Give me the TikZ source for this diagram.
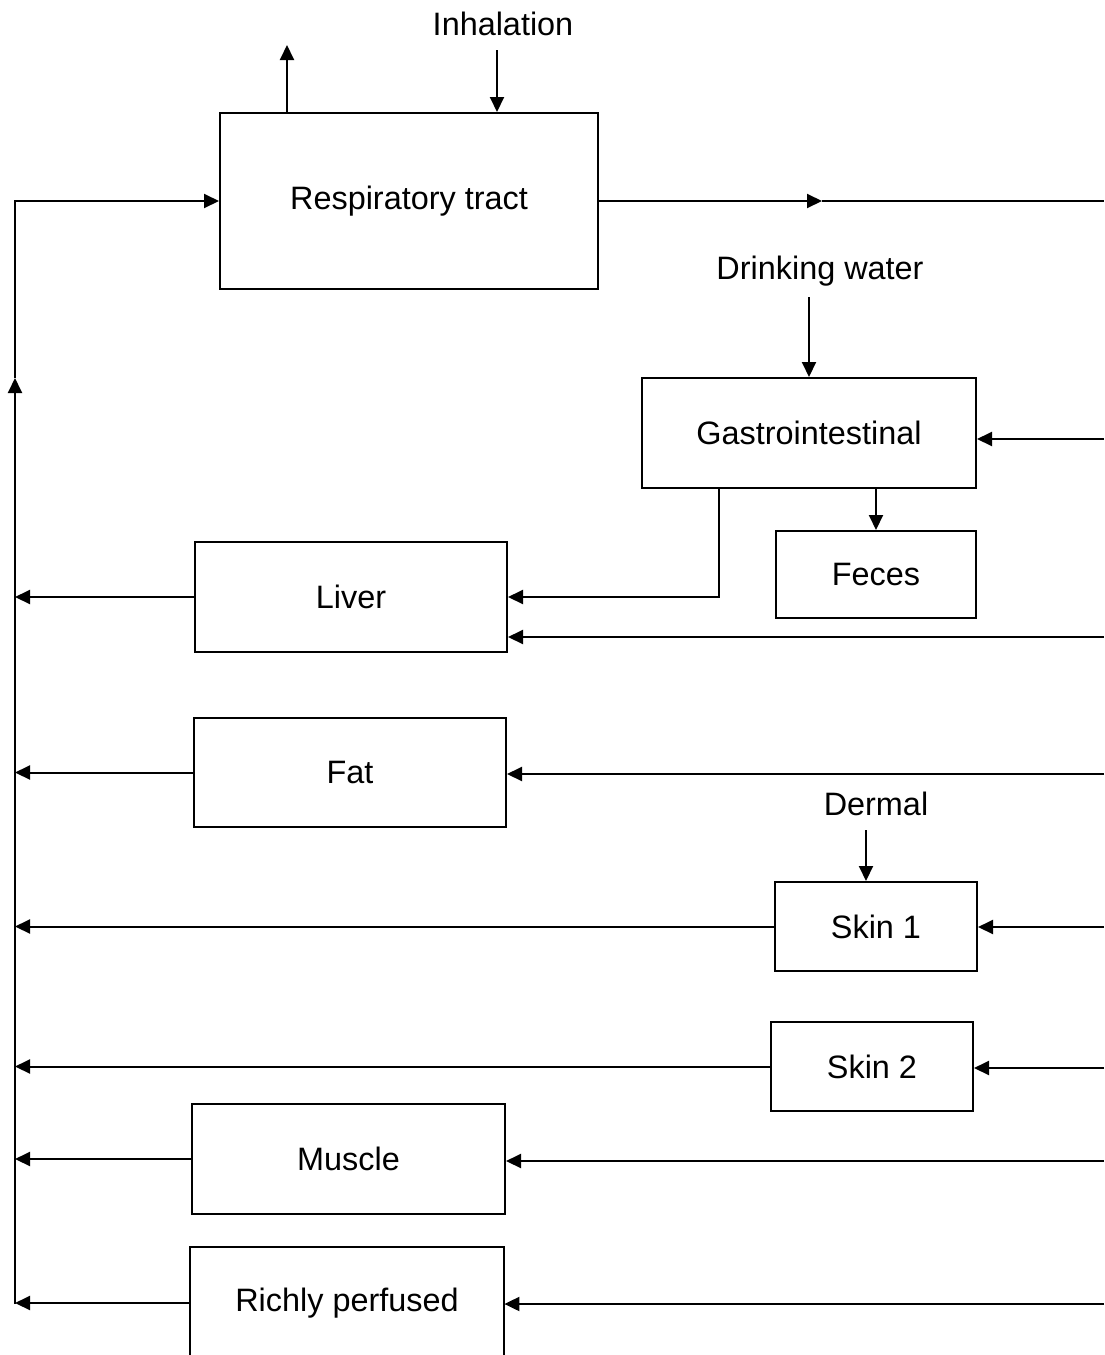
\documentclass[tikz,border=0pt]{standalone}
\usepackage{fontspec}
\setmainfont{Liberation Sans}
\usetikzlibrary{arrows.meta}
\begin{document}
\begin{tikzpicture}[x=0.5pt,y=-0.5pt,
  every node/.style={font=\fontsize{16.2}{19}\selectfont},
  box/.style 2 args={draw, line width=1pt, inner sep=0pt, minimum width=#1*0.5pt, minimum height=#2*0.5pt},
  lbl/.style={inner sep=0pt},
  line/.style={line width=1pt},
  arr/.style={line width=1pt, -{Triangle[length=7.5pt,width=7pt]}}]
\useasboundingbox (0,0) rectangle (1104,1355);
% boxes
\node[box={378}{176}] (resp) at (409,201) {Respiratory tract};
\node[box={334}{110}] (gi) at (809,433) {Gastrointestinal};
\node[box={200}{87}] (feces) at (876,574.5) {Feces};
\node[box={312}{110}] (liver) at (351,597) {Liver};
\node[box={312}{109}] (fat) at (350,772.5) {Fat};
\node[box={202}{89}] (skin1) at (876,926.5) {Skin 1};
\node[box={202}{89}] (skin2) at (872,1066.5) {Skin 2};
\node[box={313}{110}] (muscle) at (348.5,1159) {Muscle};
\node[lbl, minimum width=157pt, minimum height=56pt] (rich) at (347,1303) {Richly perfused};
\draw[line] (rich.south west) -- (rich.north west) -- (rich.north east) -- (rich.south east);
% labels
\node[lbl] (inh) at (503,24) {Inhalation};
\node[lbl] (dw) at (820,271) {Drinking water};
\node[lbl] (derm) at (876,804) {Dermal};
% coordinates
\coordinate (bus) at (15,0);
\coordinate (busTop) at (15,201);
\coordinate (busMid) at (15,378);
\coordinate (busBot) at (15,1304);
\coordinate (up) at (287,45);
\coordinate (inhA) at (497,50);
\coordinate (dwA) at (809,297);
\coordinate (dermA) at (866,830);
\coordinate (rMid) at (822,201);
\coordinate (rR) at (1104,201);
\coordinate (giR) at (1104,439);
\coordinate (giL) at (719,488);
\coordinate (liverR) at (1104,637);
\coordinate (fatR) at (1104,774);
\coordinate (skin1R) at (1104,927);
\coordinate (skin2R) at (1104,1068);
\coordinate (muscleR) at (1104,1161);
\coordinate (richR) at (1104,1304);
% top connectors
\draw[arr] (up |- resp.north) -- (up);
\draw[arr] (inhA) -- (inhA |- resp.north);
\draw[arr] (resp.east) -- (rMid);
\draw[line] (rMid) -- (rR);
% left bus
\draw[arr] (busBot) -- (busMid);
\draw[arr] (busMid) -- (busTop) -- (resp.west);
% GI
\draw[arr] (dwA) -- (gi.north);
\draw[arr] (giR) -- (giR -| gi.east);
\draw[arr] (feces.north |- gi.south) -- (feces.north);
\draw[arr] (giL) |- (liver.east);
% organs
\draw[arr] (liverR) -- (liverR -| liver.east);
\draw[arr] (liver.west) -- (liver.west -| bus);
\draw[arr] (fatR) -- (fatR -| fat.east);
\draw[arr] (fat.west) -- (fat.west -| bus);
\draw[arr] (dermA) -- (dermA |- skin1.north);
\draw[arr] (skin1R) -- (skin1R -| skin1.east);
\draw[arr] (skin1.west) -- (skin1.west -| bus);
\draw[arr] (skin2R) -- (skin2R -| skin2.east);
\draw[arr] (skin2.west) -- (skin2.west -| bus);
\draw[arr] (muscleR) -- (muscleR -| muscle.east);
\draw[arr] (muscle.west) -- (muscle.west -| bus);
\draw[arr] (richR) -- (richR -| rich.east);
\draw[arr] (rich.west) -- (rich.west -| bus);
\end{tikzpicture}
\end{document}
